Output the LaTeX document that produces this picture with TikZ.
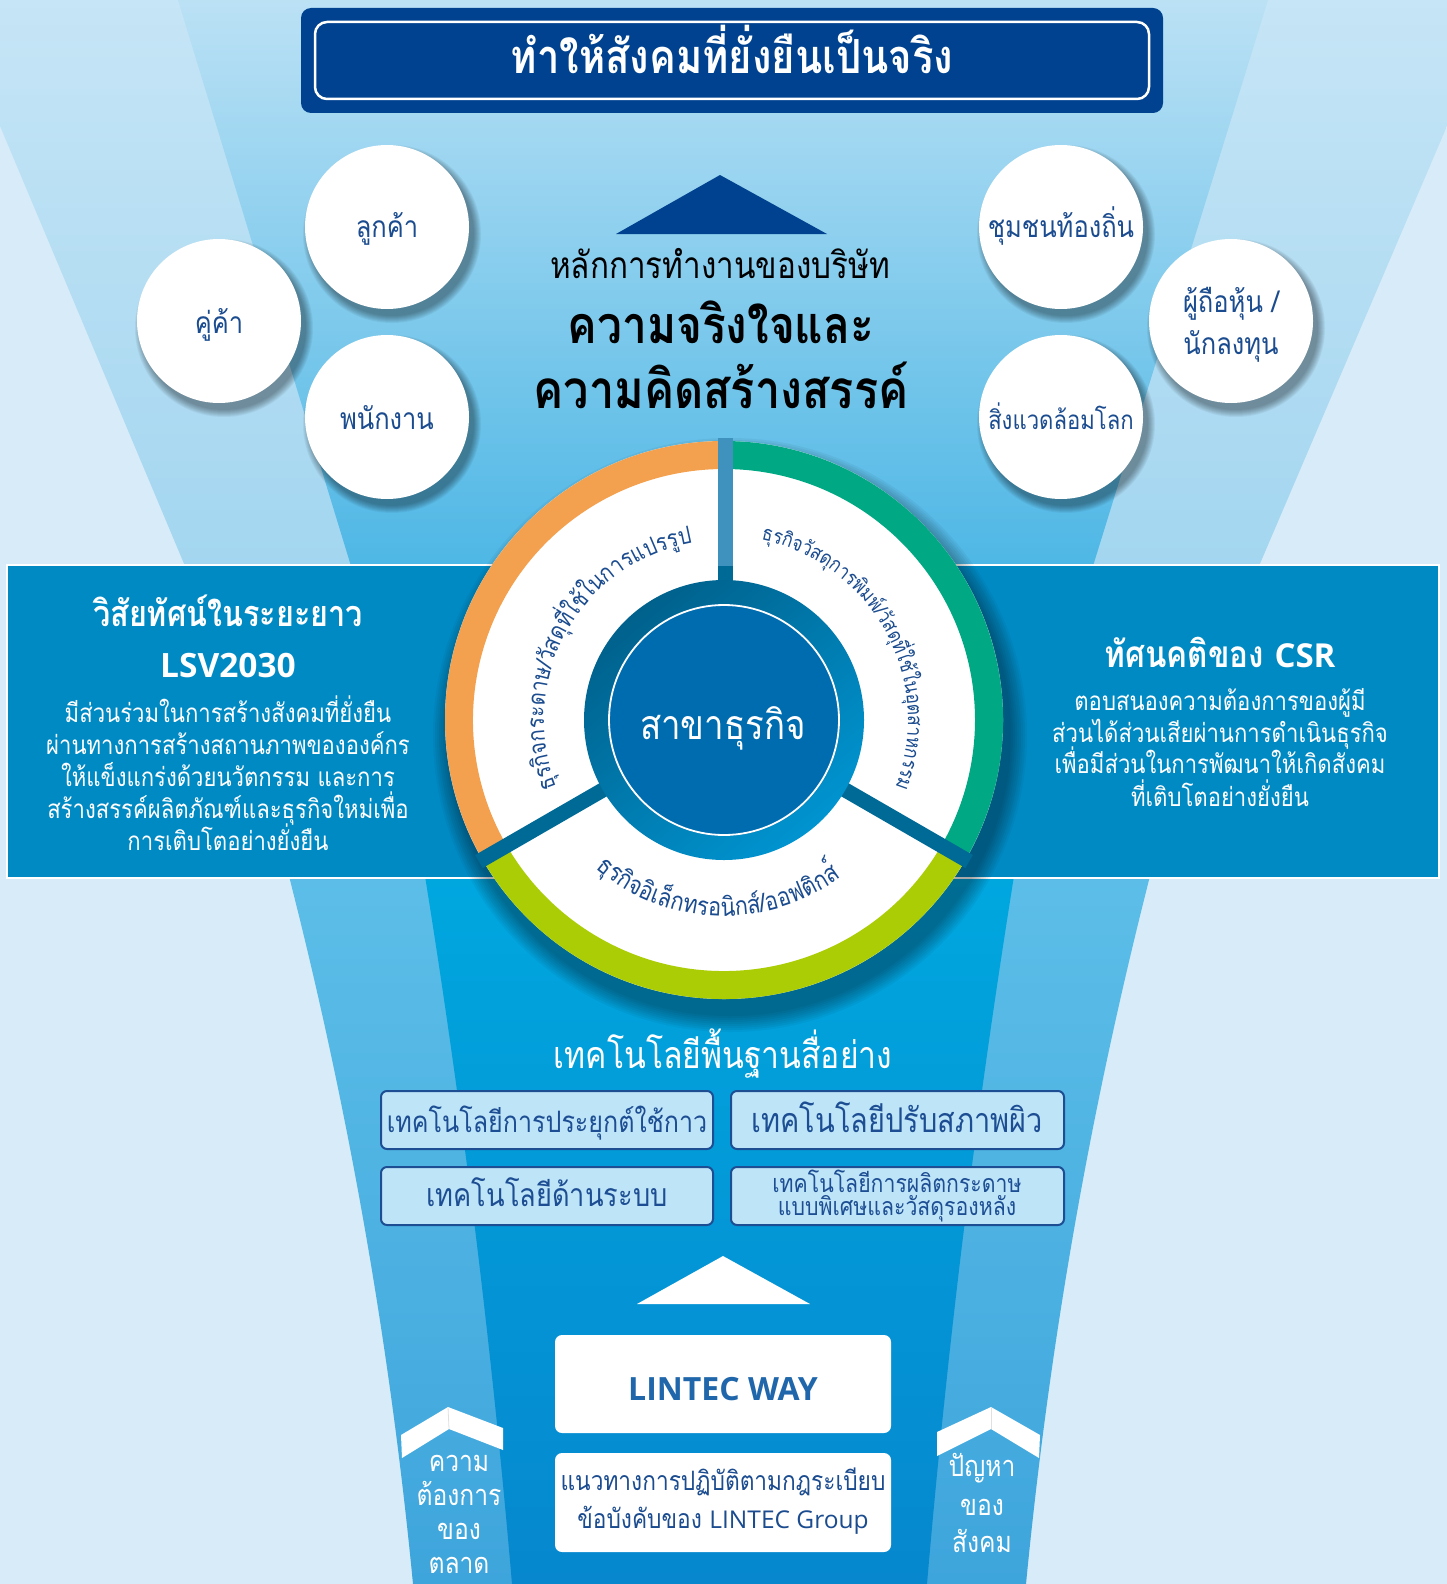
\documentclass[tikz,border=0pt]{standalone}
\usepackage{fontspec}
\setmainfont{Loma}[Script=Thai, FakeStretch=0.85]
\newfontfamily\latin{Open Sans}
\usetikzlibrary{decorations.text}
\definecolor{bglight}{HTML}{D8EBF8}
\definecolor{bandtop}{HTML}{C6E5F6}
\definecolor{bandbot}{HTML}{A3D6F0}
\definecolor{maintop}{HTML}{BBE1F5}
\definecolor{mainmid}{HTML}{6FC6EC}
\definecolor{mainbot}{HTML}{4EB7E5}
\definecolor{lbandtop}{HTML}{5CBEE8}
\definecolor{lbandbot}{HTML}{3EA5DC}
\definecolor{lmaintop}{HTML}{00A7DF}
\definecolor{lmainbot}{HTML}{0687CE}
\definecolor{navy}{HTML}{00428F}
\definecolor{txtnavy}{HTML}{1B4C8F}
\definecolor{boxblue}{HTML}{008AC4}
\definecolor{ringorange}{HTML}{F3A04F}
\definecolor{ringgreen}{HTML}{00A984}
\definecolor{ringlime}{HTML}{ABCD05}
\definecolor{divlight}{HTML}{3F92BD}
\definecolor{divdark}{HTML}{006A96}
\definecolor{ringdark}{HTML}{00618C}
\definecolor{ringlight}{HTML}{0094D0}
\definecolor{diskblue}{HTML}{006CB0}
\definecolor{techfill}{HTML}{BEE4F8}
\definecolor{technavy}{HTML}{1D4E93}
\definecolor{waytxt}{HTML}{1F66AB}
\newcommand{\fsz}[1]{\fontsize{#1}{#1}\selectfont}
\begin{document}
\begin{tikzpicture}[x=1pt,y=1pt,
  every node/.style={inner sep=0pt, outer sep=0pt},
  circtxt/.style={text=txtnavy, font=\fsz{30}, anchor=base},
  whitebody/.style={text=white, font=\fsz{26}, anchor=base},
  techbox/.style={fill=techfill, draw=technavy, line width=2pt, rounded corners=6pt},
  techtxt/.style={text=technavy, font=\fsz{32}, anchor=base},
  whitebox/.style={fill=white, rounded corners=7pt},
  chevtxt/.style={text=white, font=\fsz{29}, anchor=base},
  curvetxt/.style={decorate, decoration={text along path, text align=center, text color=txtnavy}}
]
\useasboundingbox (0,0) rectangle (1447,-1584);
% ---------- background ----------
\fill[bglight] (0,0) rectangle (1447,-1584);
\shade[top color=bandtop, bottom color=bandbot] (0,0) -- (0,-126) -- (185,-566) -- (1259,-566) -- (1447,-126) -- (1447,0) -- cycle;
\shade[top color=maintop, middle color=mainmid, bottom color=mainbot] (178,0) -- (351,-566) -- (1093,-566) -- (1268,0) -- cycle;
\shade[top color=lbandtop, bottom color=lbandbot] (289,-876) .. controls (349,-1111) and (390,-1346) .. (413,-1584) -- (1026,-1584) .. controls (1049,-1346) and (1090,-1111) .. (1150,-876) -- cycle;
\shade[top color=lmaintop, bottom color=lmainbot] (425,-876) .. controls (462.7,-1111) and (491.7,-1346) .. (512,-1584) -- (927,-1584) .. controls (947.3,-1346) and (976.3,-1111) .. (1014,-876) -- cycle;
% ---------- top banner ----------
\fill[navy, rounded corners=10pt] (301,-8) rectangle (1163,-113);
\draw[white, line width=2.5pt, rounded corners=12pt] (315,-22) rectangle (1149,-99);
\node[text=white, font=\bfseries\fsz{47}, anchor=base] (title) at (732,-74) {ทำให้สังคมที่ยั่งยืนเป็นจริง};
% ---------- triangle and principle ----------
\fill[navy] (720,-175) -- (616,-234) -- (827,-234) -- cycle;
\node[text=black, font=\fsz{37}, anchor=base] (princ) at (720,-278) {หลักการทำงานของบริษัท};
\node[text=black, font=\bfseries\fsz{52}, anchor=base] (head1) at (721,-343) {ความจริงใจและ};
\node[text=black, font=\bfseries\fsz{53}, anchor=base] (head2) at (721,-408) {ความคิดสร้างสรรค์};
% ---------- stakeholder circles ----------
\foreach \cx/\cy in {387/227, 219/321, 387/417, 1061/227, 1231/321, 1061/417}{
  \foreach \k in {0,...,7}{
    \fill[black, opacity=0.05] (\cx+5,-\cy-7) circle (89-\k);
  }
  \fill[white] (\cx,-\cy) circle (82);
}
\node[circtxt] (c1) at (387,-237) {ลูกค้า};
\node[circtxt] (c2) at (219,-333) {คู่ค้า};
\node[circtxt] (c3) at (387,-429) {พนักงาน};
\node[circtxt] (c4) at (1061,-237) {ชุมชนท้องถิ่น};
\node[circtxt] (c5a) at (1231,-312) {ผู้ถือหุ้น /};
\node[circtxt] (c5b) at (1231,-354) {นักลงทุน};
\node[circtxt, font=\fsz{26}] (c6) at (1061,-429) {สิ่งแวดล้อมโลก};
% ---------- middle box ----------
\fill[boxblue] (7,-565) rectangle (1439,-878);
\draw[white, line width=2.5pt] (7,-565) rectangle (1439,-878);
\node[text=white, font=\bfseries\fsz{36}, anchor=base] (lsvh) at (228,-626) {วิสัยทัศน์ในระยะยาว};
\node[text=white, font=\latin\bfseries\fsz{33.5}, anchor=base] (lsv) at (228,-677) {LSV2030};
\node[whitebody] (l1) at (228,-722) {มีส่วนร่วมในการสร้างสังคมที่ยั่งยืน};
\node[whitebody] (l2) at (228,-754) {ผ่านทางการสร้างสถานภาพขององค์กร};
\node[whitebody] (l3) at (228,-786) {ให้แข็งแกร่งด้วยนวัตกรรม และการ};
\node[whitebody] (l4) at (228,-818) {สร้างสรรค์ผลิตภัณฑ์และธุรกิจใหม่เพื่อ};
\node[whitebody] (l5) at (228,-850) {การเติบโตอย่างยั่งยืน};
\node[text=white, font=\bfseries\fsz{37}, anchor=base] (csrh) at (1220,-667) {ทัศนคติของ {\latin\fsz{33}CSR}};
\node[whitebody] (r1) at (1220,-710) {ตอบสนองความต้องการของผู้มี};
\node[whitebody] (r2) at (1220,-742) {ส่วนได้ส่วนเสียผ่านการดำเนินธุรกิจ};
\node[whitebody] (r3) at (1220,-773) {เพื่อมีส่วนในการพัฒนาให้เกิดสังคม};
\node[whitebody] (r4) at (1220,-806) {ที่เติบโตอย่างยั่งยืน};
% ---------- wheel ----------
\coordinate (C) at (724,-720);
\foreach \k in {0,...,8}{
  \fill[black, opacity=0.045] ([shift={(6,-15)}]C) circle (297-2*\k);
}
\fill[white] (C) circle (279);
\fill[ringorange] (C) ++(90:279) arc[start angle=90, end angle=210, radius=279] -- ++(30:28) arc[start angle=210, end angle=90, radius=251] -- cycle;
\fill[ringgreen] (C) ++(-30:279) arc[start angle=-30, end angle=90, radius=279] -- ++(270:28) arc[start angle=90, end angle=-30, radius=251] -- cycle;
\fill[ringlime] (C) ++(210:279) arc[start angle=210, end angle=330, radius=279] -- ++(150:28) arc[start angle=330, end angle=210, radius=251] -- cycle;
% dividers
\fill[divlight] (717.5,-438) rectangle (732.5,-566);
\fill[divdark] (717.5,-566) rectangle (732.5,-600);
\fill[divdark, rotate around={30:(C)}] ([shift={(-283,-7.5)}]C) rectangle ([shift={(-120,7.5)}]C);
\fill[divdark, rotate around={-30:(C)}] ([shift={(120,-7.5)}]C) rectangle ([shift={(283,7.5)}]C);
% inner ring and disk
\shade[top color=ringdark, bottom color=ringlight, shading angle=40] (C) circle (140);
\fill[diskblue] (C) circle (116);
\draw[white, line width=1.8pt] (C) circle (115);
\node[text=white, font=\fsz{41}, anchor=base] (center) at (723,-739) {สาขาธุรกิจ};
% curved labels
\path[curvetxt, decoration={text={|\fsz{24}|{ธุ}{ร}{กิ}{จ}{ก}{ร}{ะ}{ด}{า}{ษ}{/}{วั}{ส}{ดุ}{ที่}{ใ}{ช้}{ใ}{น}{ก}{า}{ร}{แ}{ป}{ร}{รู}{ป}}}]
  (C) ++(205:180) arc[start angle=205, end angle=97, radius=180];
\path[curvetxt, decoration={text={|\fsz{20.5}|{ธุ}{ร}{กิ}{จ}{วั}{ส}{ดุ}{ก}{า}{ร}{พิ}{ม}{พ์}{/}{วั}{ส}{ดุ}{ที่}{ใ}{ช้}{ใ}{น}{อุ}{ต}{ส}{า}{ห}{ก}{ร}{ร}{ม}}}]
  (C) ++(83:184) arc[start angle=83, end angle=-26, radius=184];
\path[curvetxt, decoration={text={|\fsz{25.5}|{ธุ}{ร}{กิ}{จ}{อิ}{เ}{ล็}{ก}{ท}{ร}{อ}{นิ}{ก}{ส์}{/}{อ}{อ}{ฟ}{ติ}{ก}{ส์}}}]
  (C) ++(222:196) arc[start angle=222, end angle=314, radius=196];
% ---------- technology ----------
\node[text=white, font=\fsz{37.5}, anchor=base] (techh) at (723,-1068) {เทคโนโลยีพื้นฐานสื่อย่าง};
\draw[techbox] (381,-1091) rectangle (713,-1149);
\draw[techbox] (731,-1091) rectangle (1064,-1149);
\draw[techbox] (381,-1167) rectangle (713,-1225);
\draw[techbox] (731,-1167) rectangle (1064,-1225);
\node[techtxt, font=\fsz{29.5}] (t1) at (547,-1132) {เทคโนโลยีการประยุกต์ใช้กาว};
\node[techtxt, font=\fsz{34}] (t2) at (897,-1132) {เทคโนโลยีปรับสภาพผิว};
\node[techtxt] (t3) at (547,-1206) {เทคโนโลยีด้านระบบ};
\node[techtxt, font=\fsz{25}] (t4a) at (897,-1192) {เทคโนโลยีการผลิตกระดาษ};
\node[techtxt, font=\fsz{25}] (t4b) at (897,-1215) {แบบพิเศษและวัสดุรองหลัง};
% ---------- LINTEC WAY ----------
\fill[white] (723,-1256) -- (637,-1304) -- (810,-1304) -- cycle;
\fill[whitebox] (555,-1335) rectangle (891,-1433);
\fill[whitebox] (555,-1453) rectangle (891,-1552);
\node[text=waytxt, font=\latin\bfseries\fsz{32}, anchor=base] (way) at (723,-1400) {LINTEC WAY};
\node[text=txtnavy, font=\fsz{26.7}, anchor=base] (g1) at (723,-1490) {แนวทางการปฏิบัติตามกฎระเบียบ};
\node[text=txtnavy, font=\fsz{26.7}, anchor=base] (g2) at (723,-1528) {ข้อบังคับของ {\latin\fsz{24.5}LINTEC Group}};
% ---------- side chevrons ----------
\fill[white] (401,-1435) -- (448,-1407) -- (503,-1428) -- (503,-1450) -- (449,-1429) -- (402,-1458) -- cycle;
\draw[black!12, line width=0.8pt] (448,-1407) -- (449,-1429);
\fill[white] (937,-1432) -- (991,-1407) -- (1040,-1435) -- (1039,-1458) -- (991,-1429) -- (937,-1456) -- cycle;
\draw[black!12, line width=0.8pt] (991,-1407) -- (991,-1429);
\node[chevtxt] (m1) at (459,-1471) {ความ};
\node[chevtxt] (m2) at (459,-1505) {ต้องการ};
\node[chevtxt] (m3) at (459,-1539) {ของ};
\node[chevtxt] (m4) at (459,-1573) {ตลาด};
\node[chevtxt] (s1) at (982,-1476) {ปัญหา};
\node[chevtxt] (s2) at (982,-1515) {ของ};
\node[chevtxt] (s3) at (982,-1552) {สังคม};
\end{tikzpicture}
\end{document}
